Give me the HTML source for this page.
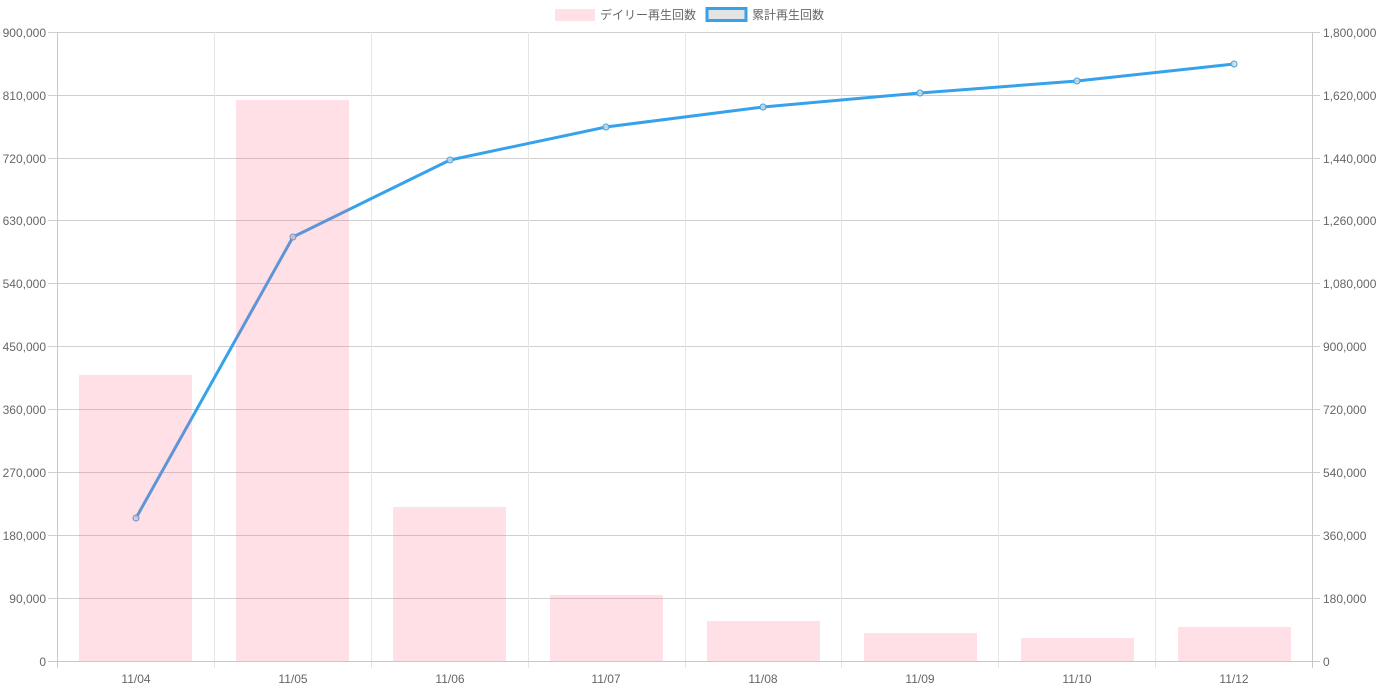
<!DOCTYPE html>
<html><head><meta charset="utf-8"><style>
html,body{margin:0;padding:0;background:#fff;}
svg{display:block;font-family:"Liberation Sans","Noto Sans CJK JP",sans-serif;}
</style></head><body>
<svg width="1380" height="690" viewBox="0 0 1380 690" xmlns="http://www.w3.org/2000/svg">
<!-- legend -->
<rect x="555" y="9" width="40" height="12" fill="rgba(255,99,132,0.2)"/>
<text x="600" y="19" font-size="12" fill="#666">デイリー再生回数</text>
<rect x="707" y="8.5" width="39" height="12" fill="rgba(220,220,220,0.8)" stroke="#36a2eb" stroke-width="3"/>
<text x="752" y="19" font-size="12" fill="#666">累計再生回数</text>
<!-- horizontal grid -->
<g stroke="#d0d0d0" stroke-width="1">
<line x1="48" y1="32.5" x2="1320" y2="32.5"/>
<line x1="48" y1="95.5" x2="1320" y2="95.5"/>
<line x1="48" y1="158.5" x2="1320" y2="158.5"/>
<line x1="48" y1="220.5" x2="1320" y2="220.5"/>
<line x1="48" y1="283.5" x2="1320" y2="283.5"/>
<line x1="48" y1="346.5" x2="1320" y2="346.5"/>
<line x1="48" y1="409.5" x2="1320" y2="409.5"/>
<line x1="48" y1="472.5" x2="1320" y2="472.5"/>
<line x1="48" y1="535.5" x2="1320" y2="535.5"/>
<line x1="48" y1="598.5" x2="1320" y2="598.5"/>
</g>
<!-- vertical grid -->
<g stroke="#e6e6e6" stroke-width="1">
<line x1="214.5" y1="32" x2="214.5" y2="668"/>
<line x1="371.5" y1="32" x2="371.5" y2="668"/>
<line x1="528.5" y1="32" x2="528.5" y2="668"/>
<line x1="685.5" y1="32" x2="685.5" y2="668"/>
<line x1="841.5" y1="32" x2="841.5" y2="668"/>
<line x1="998.5" y1="32" x2="998.5" y2="668"/>
<line x1="1155.5" y1="32" x2="1155.5" y2="668"/>
</g>
<!-- axes -->
<g stroke="#c8c8c8" stroke-width="1">
<line x1="57.5" y1="32" x2="57.5" y2="668"/>
<line x1="1312.5" y1="32" x2="1312.5" y2="668"/>
<line x1="48" y1="661.5" x2="1320" y2="661.5"/>
</g>
<!-- line -->
<polyline fill="none" stroke="#36a2eb" stroke-width="3" stroke-linejoin="round" points="136,518 293,237 450,160 606,127 763,107 920,93 1077,81 1234,64"/>
<g fill="rgba(220,220,220,0.8)" stroke="#36a2eb" stroke-width="1">
<circle cx="136" cy="518" r="3"/><circle cx="293" cy="237" r="3"/><circle cx="450" cy="160" r="3"/><circle cx="606" cy="127" r="3"/><circle cx="763" cy="107" r="3"/><circle cx="920" cy="93" r="3"/><circle cx="1077" cy="81" r="3"/><circle cx="1234" cy="64" r="3"/>
</g>
<!-- bars -->
<g fill="rgba(255,99,132,0.2)">
<rect x="79" y="375" width="113" height="286"/>
<rect x="236" y="100" width="113" height="561"/>
<rect x="393" y="507" width="113" height="154"/>
<rect x="550" y="595" width="113" height="66"/>
<rect x="707" y="621" width="113" height="40"/>
<rect x="864" y="633" width="113" height="28"/>
<rect x="1021" y="638" width="113" height="23"/>
<rect x="1178" y="627" width="113" height="34"/>
</g>
<!-- left labels -->
<g font-size="12" fill="#666" text-anchor="end">
<text x="46" y="37">900,000</text>
<text x="46" y="100">810,000</text>
<text x="46" y="163">720,000</text>
<text x="46" y="225">630,000</text>
<text x="46" y="288">540,000</text>
<text x="46" y="351">450,000</text>
<text x="46" y="414">360,000</text>
<text x="46" y="477">270,000</text>
<text x="46" y="540">180,000</text>
<text x="46" y="603">90,000</text>
<text x="46" y="666">0</text>
</g>
<g font-size="12" fill="#666">
<text x="1323" y="37">1,800,000</text>
<text x="1323" y="100">1,620,000</text>
<text x="1323" y="163">1,440,000</text>
<text x="1323" y="225">1,260,000</text>
<text x="1323" y="288">1,080,000</text>
<text x="1323" y="351">900,000</text>
<text x="1323" y="414">720,000</text>
<text x="1323" y="477">540,000</text>
<text x="1323" y="540">360,000</text>
<text x="1323" y="603">180,000</text>
<text x="1323" y="666">0</text>
</g>
<g font-size="12" fill="#666" text-anchor="middle">
<text x="136" y="683">11/04</text>
<text x="293" y="683">11/05</text>
<text x="450" y="683">11/06</text>
<text x="606" y="683">11/07</text>
<text x="763" y="683">11/08</text>
<text x="920" y="683">11/09</text>
<text x="1077" y="683">11/10</text>
<text x="1234" y="683">11/12</text>
</g>
</svg>
</body></html>
